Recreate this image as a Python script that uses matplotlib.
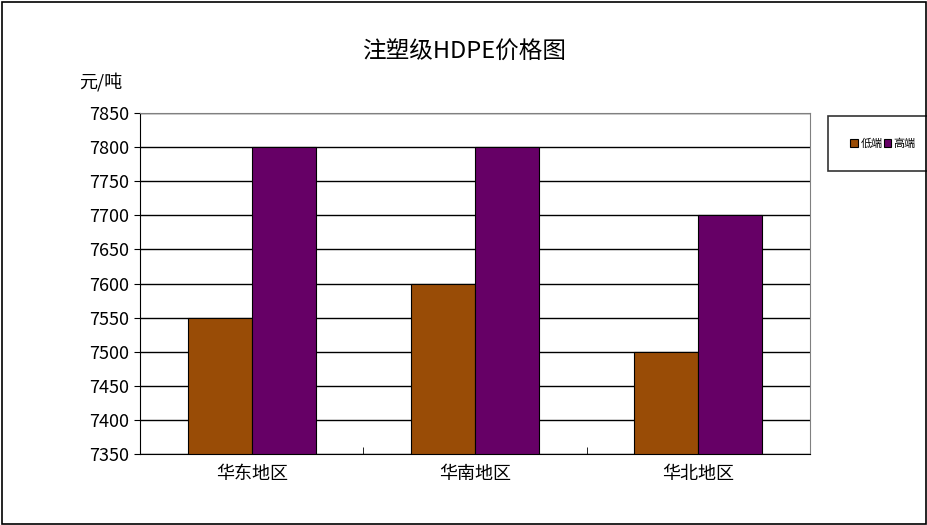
import matplotlib
matplotlib.use("Agg")
import matplotlib.pyplot as plt
import numpy as np

plt.rcParams['font.family'] = ['Noto Sans CJK SC', 'DejaVu Sans']

categories = ["华东地区", "华南地区", "华北地区"]
low = [7550, 7600, 7500]
high = [7800, 7800, 7700]
series_names = ["低端", "高端"]
yticks = list(range(7350, 7851, 50))

fig = plt.figure(figsize=(9.28, 5.25), dpi=100)
fig.patches.append(plt.Rectangle((0.002, 0.002), 0.996, 0.994, transform=fig.transFigure,
                                 fill=False, edgecolor='black', linewidth=1.2))
ax = fig.add_axes([0.1509, 0.1352, 0.7219, 0.6496])
x = np.arange(len(categories))
w = 0.287
ax.bar(x - w/2, np.array(low) - 7350, w, bottom=7350, color='#994C06', edgecolor='black', linewidth=0.8, label=series_names[0], zorder=3)
ax.bar(x + w/2, np.array(high) - 7350, w, bottom=7350, color='#660066', edgecolor='black', linewidth=0.8, label=series_names[1], zorder=3)
ax.set_xlim(-0.5, 2.5)
ax.set_ylim(7350, 7850)
ax.set_yticks(yticks)
ax.set_yticklabels([str(v) for v in yticks], fontsize=13)
ax.yaxis.grid(True, color='black', linewidth=1, zorder=0)
ax.set_xticks([-0.5, 0.5, 1.5, 2.5], minor=True)
ax.set_xticks(x)
ax.set_xticklabels(categories, fontsize=13)
ax.tick_params(axis='x', which='major', length=0, pad=8)
ax.tick_params(axis='x', which='minor', length=5, direction='in')
ax.tick_params(axis='y', length=4, direction='out')
for s in ['left', 'bottom']:
    ax.spines[s].set_color('black')
for s in ['top', 'right']:
    ax.spines[s].set_color('#808080')
fig.text(0.50, 0.90, "注塑级HDPE价格图", ha='center', va='center', fontsize=17)
fig.text(0.108, 0.843, "元/吨", ha='center', va='center', fontsize=13)
leg = ax.legend(loc='upper left', bbox_to_anchor=(1.027, 0.99), ncol=2, fontsize=8,
                frameon=True, fancybox=False, edgecolor='black', handlelength=0.7,
                handletextpad=0.2, columnspacing=0.1, borderpad=2.0, borderaxespad=0)
leg.get_frame().set_linewidth(1.2)
fig.savefig("out.png", dpi=100)
